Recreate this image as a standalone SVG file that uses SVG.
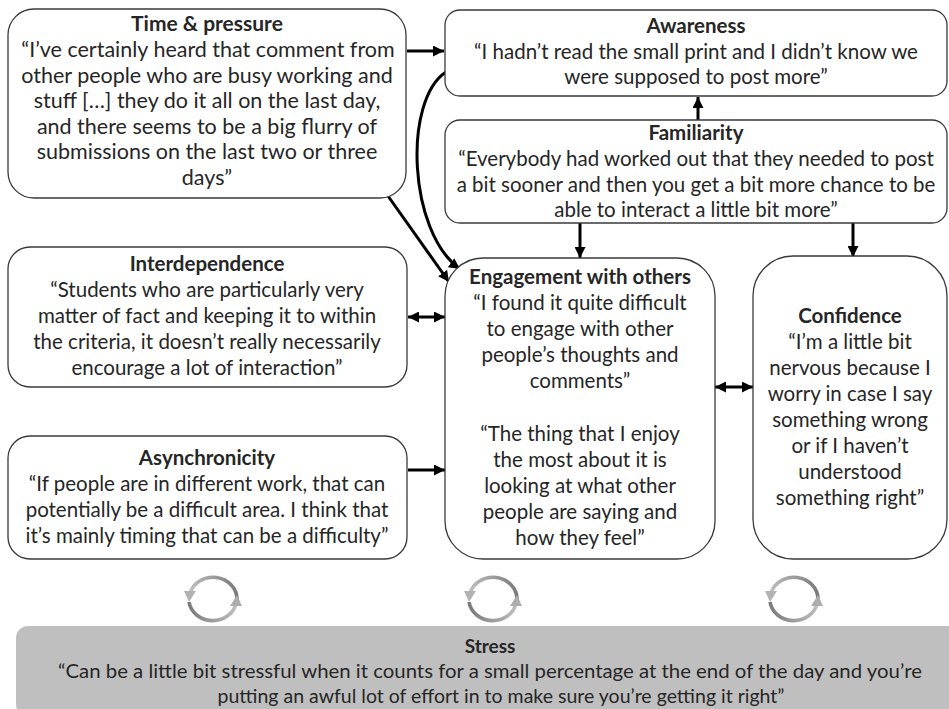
<svg xmlns="http://www.w3.org/2000/svg" width="949" height="709" viewBox="0 0 949 709">
<style>
.box{fill:#fff;stroke:#3a3a3a;stroke-width:1.3}
.t{font-family:Lato,"Liberation Sans",sans-serif;font-size:20.5px;fill:#262626;text-anchor:middle}
.b{font-weight:bold}
.c{fill:none;stroke:#000;stroke-width:3}
.cyc{fill:none;stroke-width:3.6}
</style>
<defs>
<marker id="ah" viewBox="0 0 10 10" refX="10" refY="5" markerWidth="11" markerHeight="11" markerUnits="userSpaceOnUse" orient="auto-start-reverse">
<path d="M0,0 L10,5 L0,10 Z" fill="#000"/>
</marker>
<linearGradient id="g1" x1="0" y1="0" x2="1" y2="0">
<stop offset="0" stop-color="#bdbdbd"/><stop offset="1" stop-color="#7a7a7a"/>
</linearGradient>
<linearGradient id="g2" x1="0" y1="0" x2="1" y2="0">
<stop offset="0" stop-color="#7a7a7a"/><stop offset="1" stop-color="#bdbdbd"/>
</linearGradient>
<g id="cycle">
<path class="cyc" stroke="url(#g1)" d="M24,0 A24,22 0 0 0 -23,-6"/>
<path d="M-29,-8 L-17,-8 L-24,3 Z" fill="#b3b3b3"/>
<path class="cyc" stroke="url(#g2)" d="M-24,3 A24,22 0 0 0 23,5"/>
<path d="M29,7 L17,7 L24,-4 Z" fill="#adadad"/>
</g>
</defs>

<g id="connectors">
<path class="c" d="M407,51 L444,51" marker-end="url(#ah)"/>
<path class="c" d="M388,196 L449,282" marker-end="url(#ah)"/>
<path class="c" d="M446,72 C403,100 408,232 460,269" marker-end="url(#ah)"/>
<path class="c" d="M698,120 L698,97" marker-end="url(#ah)"/>
<path class="c" d="M580,223 L580,258" marker-end="url(#ah)"/>
<path class="c" d="M853,223 L853,257" marker-end="url(#ah)"/>
<path class="c" d="M408,317 L445,317" marker-start="url(#ah)" marker-end="url(#ah)"/>
<path class="c" d="M408,470 L445,470" marker-end="url(#ah)"/>
<path class="c" d="M715,387 L753,387" marker-start="url(#ah)" marker-end="url(#ah)"/>
</g>

<g id="time-pressure">
<rect class="box" x="8" y="9" width="398" height="189" rx="26"/>
<text class="t b" x="207" y="31" style="font-size:21px">Time &amp; pressure</text>
<text class="t" x="208" y="57" style="font-size:21.5px">“I’ve certainly heard that comment from</text>
<text class="t" x="207" y="82.5" style="font-size:21.5px">other people who are busy working and</text>
<text class="t" x="207" y="108" style="font-size:21.5px">stuff […] they do it all on the last day,</text>
<text class="t" x="207" y="133.5" style="font-size:21.5px">and there seems to be a big flurry of</text>
<text class="t" x="207" y="159" style="font-size:21.5px">submissions on the last two or three</text>
<text class="t" x="207" y="184.5" style="font-size:21.5px">days”</text>
</g>

<g id="awareness">
<rect class="box" x="445" y="10" width="502" height="86" rx="15"/>
<text class="t b" x="696" y="33">Awareness</text>
<text class="t" x="696" y="59">“I hadn’t read the small print and I didn’t know we</text>
<text class="t" x="696" y="84">were supposed to post more”</text>
</g>

<g id="familiarity">
<rect class="box" x="445" y="120" width="502" height="103" rx="15"/>
<text class="t b" x="696" y="140">Familiarity</text>
<text class="t" x="696" y="166">“Everybody had worked out that they needed to post</text>
<text class="t" x="696" y="192">a bit sooner and then you get a bit more chance to be</text>
<text class="t" x="696" y="217">able to interact a little bit more”</text>
</g>

<g id="interdependence">
<rect class="box" x="8" y="247" width="399" height="140" rx="22"/>
<text class="t b" x="207" y="271">Interdependence</text>
<text class="t" x="207" y="297">“Students who are particularly very</text>
<text class="t" x="207" y="323">matter of fact and keeping it to within</text>
<text class="t" x="207" y="349">the criteria, it doesn’t really necessarily</text>
<text class="t" x="207" y="375">encourage a lot of interaction”</text>
</g>

<g id="asynchronicity">
<rect class="box" x="8" y="436" width="399" height="123" rx="22"/>
<text class="t b" x="207" y="465">Asynchronicity</text>
<text class="t" x="207" y="491">“If people are in different work, that can</text>
<text class="t" x="207" y="517">potentially be a difficult area. I think that</text>
<text class="t" x="207" y="543">it’s mainly timing that can be a difficulty”</text>
</g>

<g id="engagement">
<rect class="box" x="445" y="258" width="270" height="301" rx="38"/>
<text class="t b" x="580" y="284">Engagement with others</text>
<text class="t" x="580" y="310">“I found it quite difficult</text>
<text class="t" x="580" y="336">to engage with other</text>
<text class="t" x="580" y="362">people’s thoughts and</text>
<text class="t" x="580" y="388">comments”</text>
<text class="t" x="580" y="441">“The thing that I enjoy</text>
<text class="t" x="580" y="467">the most about it is</text>
<text class="t" x="580" y="493">looking at what other</text>
<text class="t" x="580" y="519">people are saying and</text>
<text class="t" x="580" y="545">how they feel”</text>
</g>

<g id="confidence">
<rect class="box" x="753" y="256" width="194" height="303" rx="40"/>
<text class="t b" x="850" y="323">Confidence</text>
<text class="t" x="850" y="349">“I’m a little bit</text>
<text class="t" x="850" y="375">nervous because I</text>
<text class="t" x="850" y="401">worry in case I say</text>
<text class="t" x="850" y="427">something wrong</text>
<text class="t" x="850" y="453">or if I haven’t</text>
<text class="t" x="850" y="479">understood</text>
<text class="t" x="850" y="505">something right”</text>
</g>

<g id="cycles">
<use href="#cycle" x="213" y="599"/>
<use href="#cycle" x="493" y="599"/>
<use href="#cycle" x="794" y="599"/>
</g>

<g id="stress">
<rect x="16" y="626" width="945" height="90" rx="12" fill="#bfbfbf"/>
<text class="t b" x="490" y="653" style="font-size:19px">Stress</text>
<text class="t" x="490" y="678" style="font-size:19.5px" textLength="864" lengthAdjust="spacingAndGlyphs">“Can be a little bit stressful when it counts for a small percentage at the end of the day and you’re</text>
<text class="t" x="501" y="703" style="font-size:19.5px">putting an awful lot of effort in to make sure you’re getting it right”</text>
</g>
</svg>
